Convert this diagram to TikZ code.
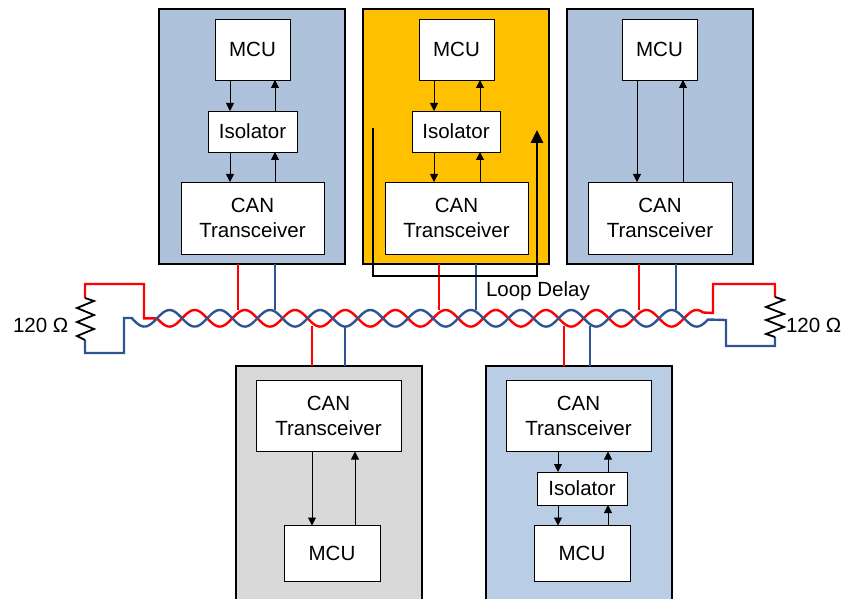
\documentclass[tikz,border=0pt]{standalone}
\usepackage{fontspec}
\setmainfont{Liberation Sans}
\usetikzlibrary{arrows.meta}
\definecolor{wred}{HTML}{FF0000}
\definecolor{wblue}{HTML}{2F5590}
\definecolor{bluebox}{HTML}{AEC1DB}
\definecolor{lightbox}{HTML}{B9CDE5}
\definecolor{goldbox}{HTML}{FFC000}
\definecolor{graybox}{HTML}{D9D9D9}
\tikzset{
  card/.style={draw=black,line width=1.8bp,outer sep=0pt,inner sep=0pt,anchor=north west},
  unitbox/.style={draw=black,fill=white,line width=0.8bp,outer sep=0pt,inner sep=0pt,align=center,
    font=\fontsize{20.6}{25}\selectfont},
  link/.style={line width=0.8bp,draw=black,-{Triangle[length=8bp,width=8bp]}},
  redwire/.style={draw=wred,line width=2.4bp,line join=miter},
  bluewire/.style={draw=wblue,line width=2.4bp,line join=miter},
  label/.style={inner sep=0pt,outer sep=0pt,font=\fontsize{20.6}{25}\selectfont},
  zig/.style={draw=black,line width=1.8bp,line join=miter}
}
\newcommand{\unitnode}[6]{\node[unitbox,minimum width=#4 bp-#2 bp,minimum height=#5 bp-#3 bp] (#1) at ({(#2+#4)/2},{(#3+#5)/2}) {#6};}
\newcommand{\cardnode}[6]{\node[card,fill=#6,minimum width=#4 bp-#2 bp,minimum height=#5 bp-#3 bp] (#1) at (#2,#3) {};}
\begin{document}
\begin{tikzpicture}[x=1bp,y=-1bp]
\useasboundingbox (0,0) rectangle (842,599);
\clip (0,0) rectangle (842,599);
% cards
\cardnode{cardA}{159}{9}{345}{264}{bluebox}
\cardnode{cardB}{363}{9}{549}{264}{goldbox}
\cardnode{cardC}{567}{9}{753}{264}{bluebox}
\cardnode{cardD}{236}{366}{422}{610}{graybox}
\cardnode{cardE}{486}{366}{672}{610}{lightbox}
% units
\unitnode{mcuA}{215}{19}{290}{80}{MCU}
\unitnode{isoA}{208}{111}{297}{152}{Isolator}
\unitnode{canA}{181}{182}{324}{254}{CAN\\Transceiver}
\unitnode{mcuB}{419}{19}{494}{80}{MCU}
\unitnode{isoB}{412}{111}{500}{152}{Isolator}
\unitnode{canB}{385}{182}{528}{254}{CAN\\Transceiver}
\unitnode{mcuC}{622}{19}{697}{80}{MCU}
\unitnode{canC}{588}{182}{732}{254}{CAN\\Transceiver}
\unitnode{canD}{256}{380.5}{401}{451.5}{CAN\\Transceiver}
\unitnode{mcuD}{284}{525.5}{380}{581.5}{MCU}
\unitnode{canE}{506}{380.5}{651}{451.5}{CAN\\Transceiver}
\unitnode{isoE}{537}{472}{627}{505}{Isolator}
\unitnode{mcuE}{534}{525.5}{630}{581.5}{MCU}
% column guides
\coordinate (xAd) at (230,0); \coordinate (xAu) at (275,0);
\coordinate (xBd) at (434,0); \coordinate (xBu) at (480,0);
\coordinate (xCd) at (637,0); \coordinate (xCu) at (683,0);
\coordinate (xDd) at (312,0); \coordinate (xDu) at (355,0);
\coordinate (xEd) at (558,0); \coordinate (xEu) at (608,0);
% arrows
\draw[link] (mcuA.south -| xAd) -- (isoA.north -| xAd);
\draw[link] (isoA.north -| xAu) -- (mcuA.south -| xAu);
\draw[link] (isoA.south -| xAd) -- (canA.north -| xAd);
\draw[link] (canA.north -| xAu) -- (isoA.south -| xAu);
\draw[link] (mcuB.south -| xBd) -- (isoB.north -| xBd);
\draw[link] (isoB.north -| xBu) -- (mcuB.south -| xBu);
\draw[link] (isoB.south -| xBd) -- (canB.north -| xBd);
\draw[link] (canB.north -| xBu) -- (isoB.south -| xBu);
\draw[link] (mcuC.south -| xCd) -- (canC.north -| xCd);
\draw[link] (canC.north -| xCu) -- (mcuC.south -| xCu);
\draw[link] (canD.south -| xDd) -- (mcuD.north -| xDd);
\draw[link] (mcuD.north -| xDu) -- (canD.south -| xDu);
\draw[link] (canE.south -| xEd) -- (isoE.north -| xEd);
\draw[link] (isoE.north -| xEu) -- (canE.south -| xEu);
\draw[link] (isoE.south -| xEd) -- (mcuE.north -| xEd);
\draw[link] (mcuE.north -| xEu) -- (isoE.south -| xEu);
% bus drops
\coordinate (busAr) at (238,310); \coordinate (busAb) at (275,310);
\coordinate (busBr) at (439,310); \coordinate (busBb) at (476,310);
\coordinate (busCr) at (639,310); \coordinate (busCb) at (676,310);
\coordinate (busDr) at (312,326); \coordinate (busDb) at (345,326);
\coordinate (busEr) at (564,326); \coordinate (busEb) at (590,326);
\draw[redwire] (cardA.south -| busAr) -- (busAr);
\draw[bluewire] (cardA.south -| busAb) -- (busAb);
\draw[redwire] (cardB.south -| busBr) -- (busBr);
\draw[bluewire] (cardB.south -| busBb) -- (busBb);
\draw[redwire] (cardC.south -| busCr) -- (busCr);
\draw[bluewire] (cardC.south -| busCb) -- (busCb);
\draw[redwire] (cardD.north -| busDr) -- (busDr);
\draw[bluewire] (cardD.north -| busDb) -- (busDb);
\draw[redwire] (cardE.north -| busEr) -- (busEr);
\draw[bluewire] (cardE.north -| busEb) -- (busEb);
% twisted pair
\draw[redwire] (85,298) -- (85,284) -- (144,284) -- (144,318.3) -- (157,318.3)
  -- plot[samples=300,domain=157:703] (\x,{318.3+8.3*sin(7.1713*(\x-157))})
  -- (713,313) -- (713,284) -- (775,284) -- (775,297);
\draw[bluewire] (85,340) -- (85,353) -- (124,353) -- (124,318) -- (132,318)
  -- plot[samples=300,domain=132:708] (\x,{318.3-8.3*sin(7.1713*(\x-157))})
  -- (726,320) -- (726,346) -- (775,346) -- (775,337);
% resistors
\draw[zig] (85,298) -- (94,301) -- (77,308) -- (94,315) -- (77,322) -- (94,329) -- (77,336) -- (85,340);
\draw[zig] (775,297) -- (784,300) -- (766,307) -- (784,314) -- (766,320) -- (784,327) -- (766,334) -- (775,337);
% loop delay
\coordinate (loopStart) at (373,128);
\coordinate (loopEnd) at (537,130);
\coordinate (loopA) at (373,276);
\coordinate (loopB) at (537,276);
\draw[line width=1.4bp,-{Triangle[length=13bp,width=12.5bp]}] (loopStart) -- (loopA) -- (loopB) -- (loopEnd);
% labels
\node[label,anchor=base west] (loopLbl) at (486,296) {Loop Delay};
\node[label,anchor=base west] (resL) at (13,332) {120 Ω};
\node[label,anchor=base west] (resR) at (786,332) {120 Ω};
\end{tikzpicture}
\end{document}
